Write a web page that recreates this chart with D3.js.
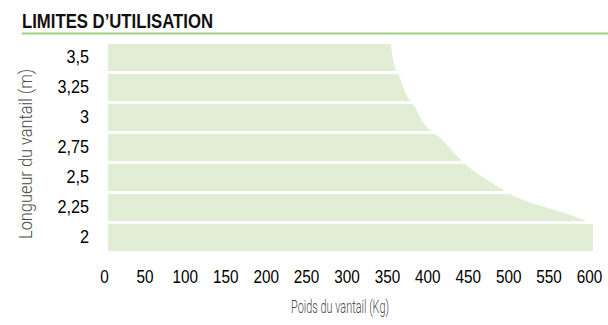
<!DOCTYPE html>
<html>
<head>
<meta charset="utf-8">
<script src="https://cdn.jsdelivr.net/npm/d3@7"></script>
<style>
  html, body { margin: 0; padding: 0; background: #fff; }
  svg { display: block; }
  .num { font-family: "Liberation Sans", Arial, sans-serif; }
  .light { font-family: Roboto, "Liberation Sans", sans-serif; }
</style>
</head>
<body>
<svg id="chart" width="608" height="325"></svg>
<script>
// Leaf length (m), one band per length, top to bottom
const lengths = [3.5, 3.25, 3, 2.75, 2.5, 2.25, 2];
// Maximum leaf weight (kg) at the upper and lower edge of each length band
const maxWeightTop    = [350, 359, 377, 405, 442, 497, 600];
const maxWeightBottom = [357, 374, 400, 438, 491, 592, 600];
// Weight axis ticks (kg)
const weightTicks = [0, 50, 100, 150, 200, 250, 300, 350, 400, 450, 500, 550, 600];

const title = "LIMITES D\u2019UTILISATION";
const xTitle = "Poids du vantail (Kg)";
const yTitle = "Longueur du vantail (m)";

const svg = d3.select("#chart");
const fill = "#e1eed5";
const accent = "#9dd07f";

// Narrow the glyphs horizontally to get a condensed face
function condense(sel, factor) {
  sel.each(function () {
    const w = this.getComputedTextLength();
    d3.select(this).attr("textLength", w * factor).attr("lengthAdjust", "spacingAndGlyphs");
  });
}
function fitWidth(sel, width) {
  sel.attr("textLength", width).attr("lengthAdjust", "spacingAndGlyphs");
}

// Heading and rule
svg.append("text")
  .attr("class", "num")
  .attr("x", 22).attr("y", 28)
  .attr("font-size", 20.5).attr("font-weight", "bold")
  .attr("fill", "#111")
  .text(title)
  .call(fitWidth, 191);
svg.append("line")
  .attr("x1", 22).attr("x2", 608)
  .attr("y1", 33.5).attr("y2", 33.5)
  .attr("stroke", accent).attr("stroke-width", 2);

const x = d3.scaleLinear().domain([0, 600]).range([108, 593]);
const y = d3.scaleBand().domain(lengths).range([44, 251]).paddingInner(0.1).paddingOuter(0);

// Clip the limit area to the length bands
const clip = svg.append("defs").append("clipPath").attr("id", "bands");
clip.selectAll("rect").data(lengths).join("rect")
  .attr("x", x(0)).attr("width", x(600) - x(0) + 2)
  .attr("y", d => y(d)).attr("height", y.bandwidth());

// Boundary of the usable zone: weight limit along the band edges
const boundary = [];
lengths.forEach((L, i) => {
  boundary.push({ py: y(L), w: maxWeightTop[i] });
  boundary.push({ py: y(L) + y.bandwidth(), w: maxWeightBottom[i] });
});

const area = d3.area()
  .y(d => d.py)
  .x0(x(0))
  .x1(d => x(d.w))
  .curve(d3.curveMonotoneY);

svg.append("path")
  .datum(boundary)
  .attr("d", area)
  .attr("fill", fill)
  .attr("clip-path", "url(#bands)");

// Length axis
const fmt = d => String(d).replace(".", ",");
const yAxis = svg.append("g")
  .attr("class", "num")
  .attr("transform", `translate(${x(0)},0)`)
  .call(d3.axisLeft(y).tickSize(0).tickPadding(19).tickFormat(fmt));
yAxis.attr("font-family", null).attr("font-size", 18);
yAxis.select(".domain").remove();
yAxis.selectAll("text")
  .attr("fill", "#000")
  .call(condense, 0.9);

// Weight axis
const xAxis = svg.append("g")
  .attr("class", "num")
  .attr("transform", `translate(-4,251)`)
  .call(d3.axisBottom(x).tickValues(weightTicks).tickSize(0).tickPadding(19).tickFormat(d3.format("d")));
xAxis.attr("font-family", null).attr("font-size", 18);
xAxis.select(".domain").remove();
xAxis.selectAll("text")
  .attr("fill", "#000")
  .call(condense, 0.85);

// Axis titles
svg.append("text")
  .attr("class", "light")
  .attr("x", 340).attr("y", 313)
  .attr("text-anchor", "middle")
  .attr("font-size", 19).attr("font-weight", 300)
  .attr("fill", "#4a4a4a")
  .text(xTitle)
  .call(fitWidth, 98);
svg.append("text")
  .attr("class", "light")
  .attr("transform", "translate(32,154) rotate(-90)")
  .attr("text-anchor", "middle")
  .attr("font-size", 19).attr("font-weight", 300)
  .attr("fill", "#4a4a4a")
  .text(yTitle)
  .call(fitWidth, 170);
</script>
</body>
</html>
